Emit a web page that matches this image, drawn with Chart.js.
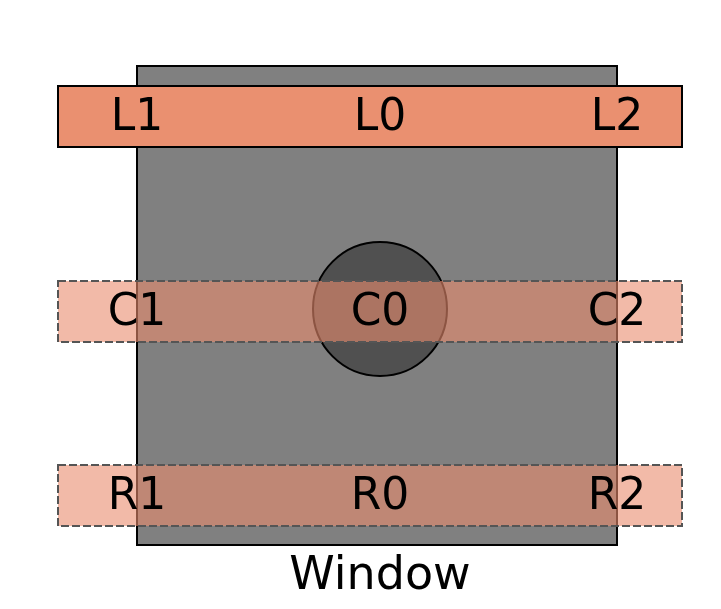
<!DOCTYPE html>
<html>
<head>
<meta charset="utf-8">
<script src="https://cdn.jsdelivr.net/npm/chart.js@4"></script>
<style>
  html, body { margin: 0; padding: 0; background: #fff; }
  #wrap { width: 721px; height: 609px; }
</style>
</head>
<body>
<div id="wrap"><canvas id="chart"></canvas></div>
<script>
// diagram coordinates (x to the right, y downwards)
const windowBox = [137, 66, 617, 545];
const lens = { cx: 380, cy: 309, r: 67 };
const bandNames = ['L', 'C', 'R'];
const bandTops = [86, 281, 465];
const bandHeight = 61;
const bandLeft = 58;
const bandRight = 682;
const labelX = [137, 380, 617];
const labelSuffix = ['1', '0', '2'];
const captionText = 'Window';
const captionPos = [380, 577];

function drawShapes(chart) {
    const ctx = chart.ctx;
    const xs = chart.scales.x, ys = chart.scales.y;
    const px = v => xs.getPixelForValue(v);
    const py = v => ys.getPixelForValue(v);

    ctx.save();
    // window
    ctx.fillStyle = '#808080';
    ctx.strokeStyle = '#000';
    ctx.lineWidth = 2;
    const w = windowBox;
    ctx.fillRect(px(w[0]), py(w[1]), px(w[2]) - px(w[0]), py(w[3]) - py(w[1]));
    ctx.strokeRect(px(w[0]), py(w[1]), px(w[2]) - px(w[0]), py(w[3]) - py(w[1]));

    // lens circle
    ctx.beginPath();
    ctx.arc(px(lens.cx), py(lens.cy), px(lens.cx + lens.r) - px(lens.cx), 0, Math.PI * 2);
    ctx.fillStyle = '#505050';
    ctx.fill();
    ctx.stroke();

    // bands
    bandNames.forEach((name, i) => {
        const x0 = px(bandLeft), y0 = py(bandTops[i]);
        const bw = px(bandRight) - x0, bh = py(bandTops[i] + bandHeight) - y0;
        if (i === 0) {
            ctx.fillStyle = '#ea9070';
            ctx.strokeStyle = '#000';
            ctx.setLineDash([]);
        } else {
            ctx.fillStyle = 'rgba(234,140,110,0.6)';
            ctx.strokeStyle = '#555';
            ctx.setLineDash([8, 3]);
        }
        ctx.fillRect(x0, y0, bw, bh);
        ctx.strokeRect(x0, y0, bw, bh);
        ctx.setLineDash([]);

        ctx.fillStyle = '#000';
        ctx.font = '44px "DejaVu Sans"';
        ctx.textAlign = 'center';
        ctx.textBaseline = 'middle';
        labelX.forEach((lx, j) => {
            ctx.fillText(name + labelSuffix[j], px(lx), py(bandTops[i] + bandHeight / 2) + 2);
        });
    });

    ctx.font = '46px "DejaVu Sans"';
    ctx.fillText(captionText, px(captionPos[0]), py(captionPos[1]));
    ctx.restore();
}

new Chart(document.getElementById('chart'), {
    type: 'scatter',
    data: { datasets: [{ data: [], pointRadius: 0 }] },
    options: {
        responsive: true,
        maintainAspectRatio: false,
        animation: false,
        layout: { padding: 0 },
        plugins: { legend: { display: false }, tooltip: { enabled: false } },
        scales: {
            x: { type: 'linear', min: 0, max: 721, display: false },
            y: { type: 'linear', min: 0, max: 609, reverse: true, display: false }
        }
    },
    plugins: [{ id: 'diagram', afterDatasetsDraw: drawShapes }]
});
</script>
</body>
</html>
